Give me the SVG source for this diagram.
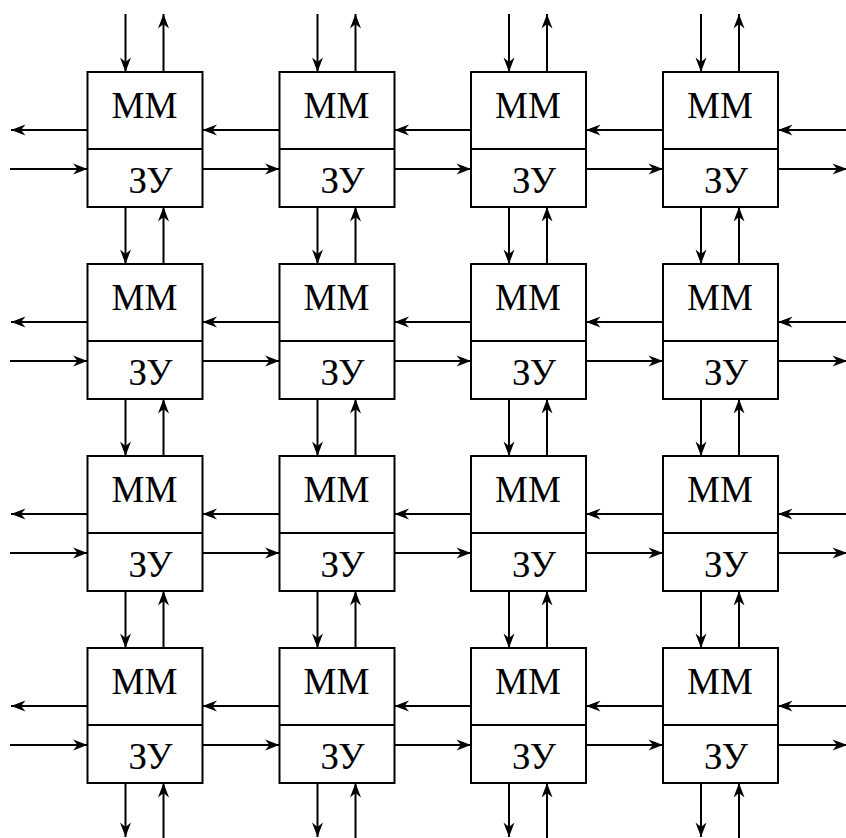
<svg xmlns="http://www.w3.org/2000/svg" width="846" height="838" viewBox="0 0 846 838">
<style>
.box{fill:#fff;stroke:#000;stroke-width:2}
.div{stroke:#000;stroke-width:2}
.t{font-family:'Liberation Serif','Times New Roman',serif;font-size:37px;fill:#000;text-anchor:middle}
.c line{stroke:#000;stroke-width:2;marker-end:url(#ah)}
</style>
<defs>
<marker id="ah" markerUnits="userSpaceOnUse" markerWidth="16" markerHeight="12" viewBox="-15 -6 16 12" refX="0" refY="0" orient="auto">
<path d="M0,0 L-14.5,-5.5 L-10,0 L-14.5,5.5 Z" fill="#000"/>
</marker>
</defs>
<rect width="846" height="838" fill="#fff"/>
<g class="c" id="connectors">
<line x1="125.5" y1="14" x2="125.5" y2="72"/><line x1="163.5" y1="72" x2="163.5" y2="14"/>
<line x1="317.5" y1="14" x2="317.5" y2="72"/><line x1="355.5" y1="72" x2="355.5" y2="14"/>
<line x1="509" y1="14" x2="509" y2="72"/><line x1="547" y1="72" x2="547" y2="14"/>
<line x1="701" y1="14" x2="701" y2="72"/><line x1="739" y1="72" x2="739" y2="14"/>
<line x1="125.5" y1="207" x2="125.5" y2="264"/><line x1="163.5" y1="264" x2="163.5" y2="207"/>
<line x1="317.5" y1="207" x2="317.5" y2="264"/><line x1="355.5" y1="264" x2="355.5" y2="207"/>
<line x1="509" y1="207" x2="509" y2="264"/><line x1="547" y1="264" x2="547" y2="207"/>
<line x1="701" y1="207" x2="701" y2="264"/><line x1="739" y1="264" x2="739" y2="207"/>
<line x1="125.5" y1="399" x2="125.5" y2="456"/><line x1="163.5" y1="456" x2="163.5" y2="399"/>
<line x1="317.5" y1="399" x2="317.5" y2="456"/><line x1="355.5" y1="456" x2="355.5" y2="399"/>
<line x1="509" y1="399" x2="509" y2="456"/><line x1="547" y1="456" x2="547" y2="399"/>
<line x1="701" y1="399" x2="701" y2="456"/><line x1="739" y1="456" x2="739" y2="399"/>
<line x1="125.5" y1="591" x2="125.5" y2="648"/><line x1="163.5" y1="648" x2="163.5" y2="591"/>
<line x1="317.5" y1="591" x2="317.5" y2="648"/><line x1="355.5" y1="648" x2="355.5" y2="591"/>
<line x1="509" y1="591" x2="509" y2="648"/><line x1="547" y1="648" x2="547" y2="591"/>
<line x1="701" y1="591" x2="701" y2="648"/><line x1="739" y1="648" x2="739" y2="591"/>
<line x1="125.5" y1="783" x2="125.5" y2="837"/><line x1="163.5" y1="840" x2="163.5" y2="783"/>
<line x1="317.5" y1="783" x2="317.5" y2="837"/><line x1="355.5" y1="840" x2="355.5" y2="783"/>
<line x1="509" y1="783" x2="509" y2="837"/><line x1="547" y1="840" x2="547" y2="783"/>
<line x1="701" y1="783" x2="701" y2="837"/><line x1="739" y1="840" x2="739" y2="783"/>
<line x1="87.5" y1="130" x2="11" y2="130"/><line x1="279.5" y1="130" x2="202.5" y2="130"/><line x1="471" y1="130" x2="394.5" y2="130"/><line x1="663" y1="130" x2="586" y2="130"/><line x1="848" y1="130" x2="778" y2="130"/>
<line x1="10" y1="169" x2="87.5" y2="169"/><line x1="202.5" y1="169" x2="279.5" y2="169"/><line x1="394.5" y1="169" x2="471" y2="169"/><line x1="586" y1="169" x2="663" y2="169"/><line x1="778" y1="169" x2="847" y2="169"/>
<line x1="87.5" y1="322" x2="11" y2="322"/><line x1="279.5" y1="322" x2="202.5" y2="322"/><line x1="471" y1="322" x2="394.5" y2="322"/><line x1="663" y1="322" x2="586" y2="322"/><line x1="848" y1="322" x2="778" y2="322"/>
<line x1="10" y1="361" x2="87.5" y2="361"/><line x1="202.5" y1="361" x2="279.5" y2="361"/><line x1="394.5" y1="361" x2="471" y2="361"/><line x1="586" y1="361" x2="663" y2="361"/><line x1="778" y1="361" x2="847" y2="361"/>
<line x1="87.5" y1="514" x2="11" y2="514"/><line x1="279.5" y1="514" x2="202.5" y2="514"/><line x1="471" y1="514" x2="394.5" y2="514"/><line x1="663" y1="514" x2="586" y2="514"/><line x1="848" y1="514" x2="778" y2="514"/>
<line x1="10" y1="553" x2="87.5" y2="553"/><line x1="202.5" y1="553" x2="279.5" y2="553"/><line x1="394.5" y1="553" x2="471" y2="553"/><line x1="586" y1="553" x2="663" y2="553"/><line x1="778" y1="553" x2="847" y2="553"/>
<line x1="87.5" y1="706" x2="11" y2="706"/><line x1="279.5" y1="706" x2="202.5" y2="706"/><line x1="471" y1="706" x2="394.5" y2="706"/><line x1="663" y1="706" x2="586" y2="706"/><line x1="848" y1="706" x2="778" y2="706"/>
<line x1="10" y1="745" x2="87.5" y2="745"/><line x1="202.5" y1="745" x2="279.5" y2="745"/><line x1="394.5" y1="745" x2="471" y2="745"/><line x1="586" y1="745" x2="663" y2="745"/><line x1="778" y1="745" x2="847" y2="745"/>
</g>
<g id="n11"><rect class="box" x="87.5" y="72" width="115" height="135"/><line class="div" x1="87.5" y1="149" x2="202.5" y2="149"/><text class="t" x="144.5" y="118">MM</text><text class="t" x="150.5" y="193">ЗУ</text></g>
<g id="n12"><rect class="box" x="279.5" y="72" width="115" height="135"/><line class="div" x1="279.5" y1="149" x2="394.5" y2="149"/><text class="t" x="336.5" y="118">MM</text><text class="t" x="342.5" y="193">ЗУ</text></g>
<g id="n13"><rect class="box" x="471" y="72" width="115" height="135"/><line class="div" x1="471" y1="149" x2="586" y2="149"/><text class="t" x="528" y="118">MM</text><text class="t" x="534" y="193">ЗУ</text></g>
<g id="n14"><rect class="box" x="663" y="72" width="115" height="135"/><line class="div" x1="663" y1="149" x2="778" y2="149"/><text class="t" x="720" y="118">MM</text><text class="t" x="726" y="193">ЗУ</text></g>
<g id="n21"><rect class="box" x="87.5" y="264" width="115" height="135"/><line class="div" x1="87.5" y1="341" x2="202.5" y2="341"/><text class="t" x="144.5" y="310">MM</text><text class="t" x="150.5" y="385">ЗУ</text></g>
<g id="n22"><rect class="box" x="279.5" y="264" width="115" height="135"/><line class="div" x1="279.5" y1="341" x2="394.5" y2="341"/><text class="t" x="336.5" y="310">MM</text><text class="t" x="342.5" y="385">ЗУ</text></g>
<g id="n23"><rect class="box" x="471" y="264" width="115" height="135"/><line class="div" x1="471" y1="341" x2="586" y2="341"/><text class="t" x="528" y="310">MM</text><text class="t" x="534" y="385">ЗУ</text></g>
<g id="n24"><rect class="box" x="663" y="264" width="115" height="135"/><line class="div" x1="663" y1="341" x2="778" y2="341"/><text class="t" x="720" y="310">MM</text><text class="t" x="726" y="385">ЗУ</text></g>
<g id="n31"><rect class="box" x="87.5" y="456" width="115" height="135"/><line class="div" x1="87.5" y1="533" x2="202.5" y2="533"/><text class="t" x="144.5" y="502">MM</text><text class="t" x="150.5" y="577">ЗУ</text></g>
<g id="n32"><rect class="box" x="279.5" y="456" width="115" height="135"/><line class="div" x1="279.5" y1="533" x2="394.5" y2="533"/><text class="t" x="336.5" y="502">MM</text><text class="t" x="342.5" y="577">ЗУ</text></g>
<g id="n33"><rect class="box" x="471" y="456" width="115" height="135"/><line class="div" x1="471" y1="533" x2="586" y2="533"/><text class="t" x="528" y="502">MM</text><text class="t" x="534" y="577">ЗУ</text></g>
<g id="n34"><rect class="box" x="663" y="456" width="115" height="135"/><line class="div" x1="663" y1="533" x2="778" y2="533"/><text class="t" x="720" y="502">MM</text><text class="t" x="726" y="577">ЗУ</text></g>
<g id="n41"><rect class="box" x="87.5" y="648" width="115" height="135"/><line class="div" x1="87.5" y1="725" x2="202.5" y2="725"/><text class="t" x="144.5" y="694">MM</text><text class="t" x="150.5" y="769">ЗУ</text></g>
<g id="n42"><rect class="box" x="279.5" y="648" width="115" height="135"/><line class="div" x1="279.5" y1="725" x2="394.5" y2="725"/><text class="t" x="336.5" y="694">MM</text><text class="t" x="342.5" y="769">ЗУ</text></g>
<g id="n43"><rect class="box" x="471" y="648" width="115" height="135"/><line class="div" x1="471" y1="725" x2="586" y2="725"/><text class="t" x="528" y="694">MM</text><text class="t" x="534" y="769">ЗУ</text></g>
<g id="n44"><rect class="box" x="663" y="648" width="115" height="135"/><line class="div" x1="663" y1="725" x2="778" y2="725"/><text class="t" x="720" y="694">MM</text><text class="t" x="726" y="769">ЗУ</text></g>
</svg>
